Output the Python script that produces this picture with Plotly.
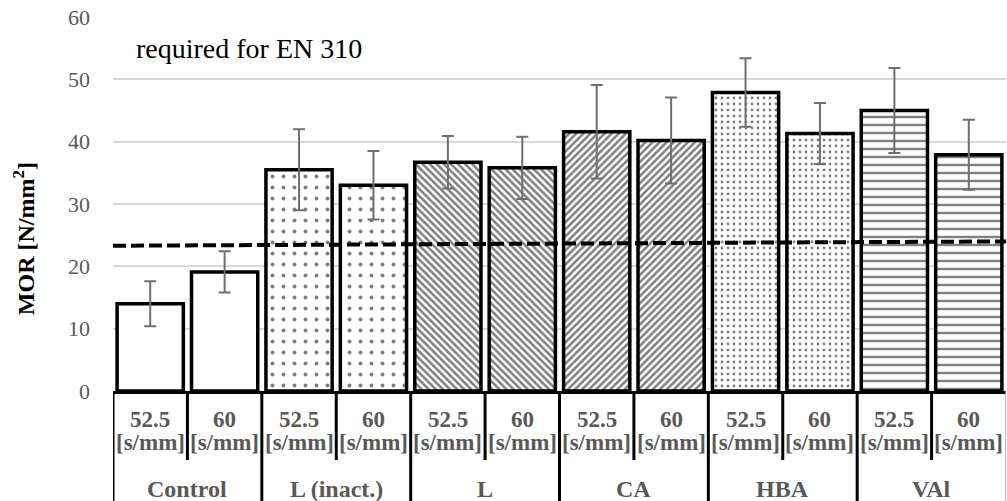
import plotly.graph_objects as go

groups = ["Control", "L (inact.)", "L", "CA", "HBA", "VAl"]
speeds = ["52.5", "60"]
speed_unit = "[s/mm]"
mor = [14.0, 19.1, 35.5, 33.0, 36.7, 35.8, 41.6, 40.2, 47.9, 41.3, 45.0, 37.9]
mor_err = [3.6, 3.3, 6.5, 5.5, 4.2, 5.0, 7.5, 6.9, 5.5, 4.9, 6.8, 5.6]
threshold = [23.3, 24.0]
threshold_label = "required for EN 310"
y_ticks = [0, 10, 20, 30, 40, 50, 60]

FONT = "Liberation Serif"
n = len(mor)
xs = list(range(n))

pat_shape = ["", "", ".", ".", "\\", "\\", "/", "/", ".", ".", "-", "-"]
pat_size = [8, 8, 11, 11, 5, 5, 5, 5, 6, 6, 8, 8]
pat_sol = [0.1, 0.1, 0.1, 0.1, 0.5, 0.5, 0.5, 0.5, 0.17, 0.17, 0.3, 0.3]

fig = go.Figure()
fig.add_trace(go.Bar(
    x=xs, y=mor, width=0.89,
    marker=dict(color="white", line=dict(color="black", width=3.5),
                pattern=dict(shape=pat_shape, size=pat_size, solidity=pat_sol,
                             fgcolor="black", bgcolor="white", fillmode="overlay")),
    error_y=dict(type="data", array=mor_err, color="#6f6f6f", thickness=2, width=6),
    showlegend=False,
))
fig.add_trace(go.Scatter(
    x=[-0.5, n - 0.5], y=threshold, mode="lines",
    line=dict(color="black", width=4, dash="13px,5px"),
    showlegend=False, cliponaxis=False,
))

H = 374.0  # plot height in px
ann = []
for i in xs:
    ann.append(dict(x=i, xref="x", y=0, yref="paper", yshift=-28, yanchor="middle",
                    text="<b>%s</b>" % speeds[i % 2], showarrow=False,
                    font=dict(family=FONT, size=23, color="#595959")))
    ann.append(dict(x=i, xref="x", y=0, yref="paper", yshift=-51, yanchor="middle",
                    text="<b>%s</b>" % speed_unit, showarrow=False,
                    font=dict(family=FONT, size=23, color="#595959")))
for g, name in enumerate(groups):
    ann.append(dict(x=2 * g + 0.5, xref="x", y=0, yref="paper", yshift=-98, yanchor="middle",
                    text="<b>%s</b>" % name, showarrow=False,
                    font=dict(family=FONT, size=24, color="#595959")))
ann.append(dict(x=0, xref="paper", xanchor="left", xshift=21, y=55.0, yref="y",
                yanchor="middle", text=threshold_label, showarrow=False,
                font=dict(family=FONT, size=28, color="black")))
ann.append(dict(x=0, xref="paper", xshift=-89, xanchor="center", y=0.406, yref="paper",
                yanchor="middle", textangle=-90, text="<b>MOR [N/mm<sup>2</sup>]</b>",
                showarrow=False, font=dict(family=FONT, size=24, color="black")))

shapes = []
for k in range(n + 1):
    xb = k - 0.5
    if k == n:
        shapes.append(dict(type="line", xref="x", yref="paper", x0=xb, x1=xb,
                           y0=0, y1=-110 / H, line=dict(color="#a0a0a0", width=1.5)))
    elif k % 2 == 0:
        shapes.append(dict(type="line", xref="x", yref="paper", x0=xb, x1=xb,
                           y0=0, y1=-110 / H, line=dict(color="black", width=3)))
    else:
        shapes.append(dict(type="line", xref="x", yref="paper", x0=xb, x1=xb,
                           y0=0, y1=-69 / H, line=dict(color="black", width=3)))

fig.update_layout(
    width=1007, height=501,
    margin=dict(l=113, r=1, t=17, b=110),
    plot_bgcolor="white", paper_bgcolor="white",
    annotations=ann, shapes=shapes,
    xaxis=dict(range=[-0.5, n - 0.5], showticklabels=False, showgrid=False,
               zeroline=False, showline=True, linecolor="black", linewidth=3,
               fixedrange=True),
    yaxis=dict(range=[0, 60], tickvals=y_ticks, showgrid=True, gridcolor="#d9d9d9",
               gridwidth=1.5, zeroline=False, showline=False, ticks="",
               ticklabelstandoff=22,
               tickfont=dict(family=FONT, size=22, color="#595959")),
    bargap=0.11,
)
fig.write_html("out.html", config={"displayModeBar": False},
               post_script="document.body.style.margin='0';document.body.style.overflow='hidden';")
